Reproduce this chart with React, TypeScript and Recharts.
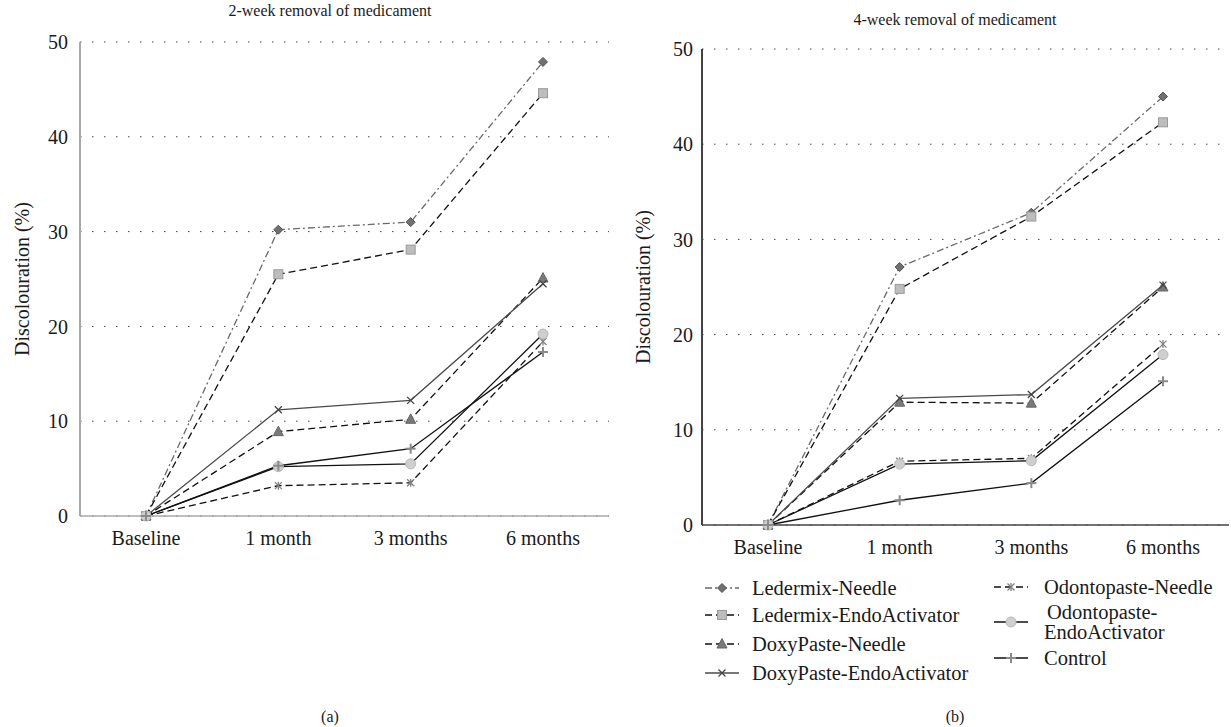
import { LineChart, Line, XAxis, YAxis, CartesianGrid } from 'recharts'

const categories = ['Baseline', '1 month', '3 months', '6 months']
const yTicks = [0, 10, 20, 30, 40, 50]

const seriesNames = [
  'Ledermix-Needle',
  'Ledermix-EndoActivator',
  'DoxyPaste-Needle',
  'DoxyPaste-EndoActivator',
  'Odontopaste-Needle',
  'Odontopaste-EndoActivator',
  'Control',
]

// 2-week removal
const ledermixNeedle2 = [0, 30.2, 31.0, 47.9]
const ledermixEndo2 = [0, 25.5, 28.1, 44.6]
const doxyNeedle2 = [0, 8.9, 10.2, 25.1]
const doxyEndo2 = [0, 11.2, 12.2, 24.5]
const odontoNeedle2 = [0, 3.2, 3.5, 18.4]
const odontoEndo2 = [0, 5.2, 5.5, 19.2]
const control2 = [0, 5.3, 7.1, 17.3]

// 4-week removal
const ledermixNeedle4 = [0, 27.1, 32.8, 45.0]
const ledermixEndo4 = [0, 24.8, 32.4, 42.3]
const doxyNeedle4 = [0, 12.9, 12.8, 25.0]
const doxyEndo4 = [0, 13.3, 13.7, 25.2]
const odontoNeedle4 = [0, 6.7, 7.0, 19.0]
const odontoEndo4 = [0, 6.4, 6.75, 17.9]
const control4 = [0, 2.6, 4.4, 15.1]

const twoWeek = [ledermixNeedle2, ledermixEndo2, doxyNeedle2, doxyEndo2, odontoNeedle2, odontoEndo2, control2]
const fourWeek = [ledermixNeedle4, ledermixEndo4, doxyNeedle4, doxyEndo4, odontoNeedle4, odontoEndo4, control4]

const toRows = (series: number[][]) =>
  categories.map((period, i) => {
    const row: Record<string, string | number> = { period }
    series.forEach((vals, s) => {
      row['s' + s] = vals[i]
    })
    return row
  })

type Kind = 'diamond' | 'square' | 'triangle' | 'cross' | 'star' | 'circle' | 'plus'

const styles: { stroke: string; dash?: string; kind: Kind }[] = [
  { stroke: '#6a6a6a', dash: '7 3 2 3', kind: 'diamond' },
  { stroke: '#111', dash: '7 4', kind: 'square' },
  { stroke: '#111', dash: '7 4', kind: 'triangle' },
  { stroke: '#4a4a4a', kind: 'cross' },
  { stroke: '#111', dash: '7 4', kind: 'star' },
  { stroke: '#111', kind: 'circle' },
  { stroke: '#111', kind: 'plus' },
]

function Marker({ cx, cy, kind }: { cx: number; cy: number; kind: Kind }) {
  if (cx == null || cy == null) return null
  switch (kind) {
    case 'diamond':
      return <polygon points={`${cx},${cy - 4.5} ${cx + 4.5},${cy} ${cx},${cy + 4.5} ${cx - 4.5},${cy}`} fill="#707070" stroke="#505050" strokeWidth={1} />
    case 'square':
      return <rect x={cx - 4.5} y={cy - 4.5} width={9} height={9} fill="#bdbdbd" stroke="#9a9a9a" strokeWidth={1} />
    case 'triangle':
      return <polygon points={`${cx},${cy - 5.5} ${cx + 5},${cy + 4} ${cx - 5},${cy + 4}`} fill="#7a7a7a" stroke="#666" strokeWidth={1} />
    case 'cross':
      return (
        <g stroke="#444" strokeWidth={1.3}>
          <line x1={cx - 3.5} y1={cy - 3.5} x2={cx + 3.5} y2={cy + 3.5} />
          <line x1={cx - 3.5} y1={cy + 3.5} x2={cx + 3.5} y2={cy - 3.5} />
        </g>
      )
    case 'star':
      return (
        <g stroke="#808080" strokeWidth={1.3}>
          <line x1={cx - 3.5} y1={cy - 3.5} x2={cx + 3.5} y2={cy + 3.5} />
          <line x1={cx - 3.5} y1={cy + 3.5} x2={cx + 3.5} y2={cy - 3.5} />
          <line x1={cx} y1={cy - 4} x2={cx} y2={cy + 4} />
        </g>
      )
    case 'circle':
      return <circle cx={cx} cy={cy} r={5} fill="#cfcfcf" stroke="#b8b8b8" strokeWidth={1} />
    case 'plus':
      return (
        <g stroke="#8a8a8a" strokeWidth={2}>
          <line x1={cx - 5} y1={cy} x2={cx + 5} y2={cy} />
          <line x1={cx} y1={cy - 5} x2={cx} y2={cy + 5} />
        </g>
      )
  }
  return null
}

const font = "'Liberation Serif', 'DejaVu Serif', serif"

interface PanelProps {
  series: number[][]
  width: number
  height: number
  margin: { top: number; right: number; bottom: number; left: number }
  yWidth: number
  axisColor: string
  labelOffset: number
  yTickMargin: number
  pad: number
}

function Panel({ series, width, height, margin, yWidth, axisColor, labelOffset, yTickMargin, pad }: PanelProps) {
  const data = toRows(series)
  return (
    <LineChart width={width} height={height} data={data} margin={margin} style={{ fontFamily: font }}>
      <CartesianGrid vertical={false} stroke="#444" strokeDasharray="1.5 10.5" />
      <XAxis
        dataKey="period"
        interval={0}
        tickLine={false}
        padding={{ left: pad, right: pad }}
        axisLine={{ stroke: axisColor, strokeWidth: 1.5 }}
        tick={{ fill: '#1a1a1a', fontSize: 20, fontFamily: font }}
        tickMargin={9}
        height={40}
      />
      <YAxis
        domain={[0, 50]}
        ticks={yTicks}
        interval={0}
        tickLine={false}
        axisLine={{ stroke: axisColor, strokeWidth: 2 }}
        tick={{ fill: '#1a1a1a', fontSize: 20, fontFamily: font }}
        tickMargin={yTickMargin}
        width={yWidth}
        label={{
          value: 'Discolouration (%)',
          angle: -90,
          position: 'insideLeft',
          offset: labelOffset,
          style: { textAnchor: 'middle', fontSize: 20, fill: '#1a1a1a', fontFamily: font },
        }}
      />
      {seriesNames.map((name, s) => (
        <Line
          key={name}
          name={name}
          dataKey={'s' + s}
          type="linear"
          stroke={styles[s].stroke}
          strokeWidth={1.3}
          strokeDasharray={styles[s].dash}
          isAnimationActive={false}
          dot={(p: any) => <Marker key={name + p.index} cx={p.cx} cy={p.cy} kind={styles[s].kind} />}
        />
      ))}
    </LineChart>
  )
}

const legendPos = [
  { left: 705, textLeft: 752, top: 588 },
  { left: 705, textLeft: 752, top: 615 },
  { left: 705, textLeft: 752, top: 644 },
  { left: 705, textLeft: 752, top: 673 },
  { left: 994, textLeft: 1044, top: 587 },
  { left: 994, textLeft: 1044, top: 622 },
  { left: 994, textLeft: 1044, top: 658 },
]

function LegendBlock() {
  return (
    <>
      {seriesNames.map((name, s) => {
        const pos = legendPos[s]
        const label = name === 'Odontopaste-EndoActivator' ? ['Odontopaste-', 'EndoActivator'] : [name]
        return (
          <div key={name}>
            <svg
              width={36}
              height={14}
              style={{ position: 'absolute', left: pos.left, top: pos.top - 7, overflow: 'visible' }}
            >
              <line x1={0} y1={7} x2={34} y2={7} stroke={styles[s].stroke} strokeWidth={1.3} strokeDasharray={styles[s].dash} />
              <Marker cx={17} cy={7} kind={styles[s].kind} />
            </svg>
            <div
              style={{
                position: 'absolute',
                left: pos.textLeft,
                top: pos.top - (label.length * 20) / 2,
                fontSize: 20.5,
                lineHeight: '20px',
                fontFamily: font,
                color: '#1a1a1a',
                whiteSpace: 'nowrap',
              }}
            >
              {label.map((t, i) => (
                <div key={t} style={{ marginLeft: label.length > 1 && i === 0 ? 3 : 0 }}>
                  {t}
                </div>
              ))}
            </div>
          </div>
        )
      })}
    </>
  )
}

export default function App() {
  return (
    <div
      style={{
        position: 'absolute',
        left: 0,
        top: 0,
        width: 1231,
        height: 727,
        background: '#fff',
        fontFamily: font,
        color: '#1a1a1a',
        overflow: 'hidden',
      }}
    >
      <div style={{ position: 'absolute', left: 0, top: 0 }}>
        <Panel
          series={twoWeek}
          width={620}
          height={560}
          margin={{ top: 42, right: 11, bottom: 4, left: 0 }}
          yWidth={80}
          axisColor="#a8a8a8"
          labelOffset={22}
          yTickMargin={6}
          pad={66}
        />
      </div>
      <div style={{ position: 'absolute', left: 620, top: 0 }}>
        <Panel
          series={fourWeek}
          width={611}
          height={570}
          margin={{ top: 49, right: 2, bottom: 5, left: 0 }}
          yWidth={82}
          axisColor="#444"
          labelOffset={23}
          yTickMargin={3}
          pad={66}
        />
      </div>
      <div style={{ position: 'absolute', left: 0, width: 660, top: 2, textAlign: 'center', fontSize: 16 }}>
        2-week removal of medicament
      </div>
      <div style={{ position: 'absolute', left: 640, width: 630, top: 11, textAlign: 'center', fontSize: 16 }}>
        4-week removal of medicament
      </div>
      <LegendBlock />
      <div style={{ position: 'absolute', left: 300, width: 60, top: 708, textAlign: 'center', fontSize: 16 }}>(a)</div>
      <div style={{ position: 'absolute', left: 925, width: 60, top: 708, textAlign: 'center', fontSize: 16 }}>(b)</div>
    </div>
  )
}
